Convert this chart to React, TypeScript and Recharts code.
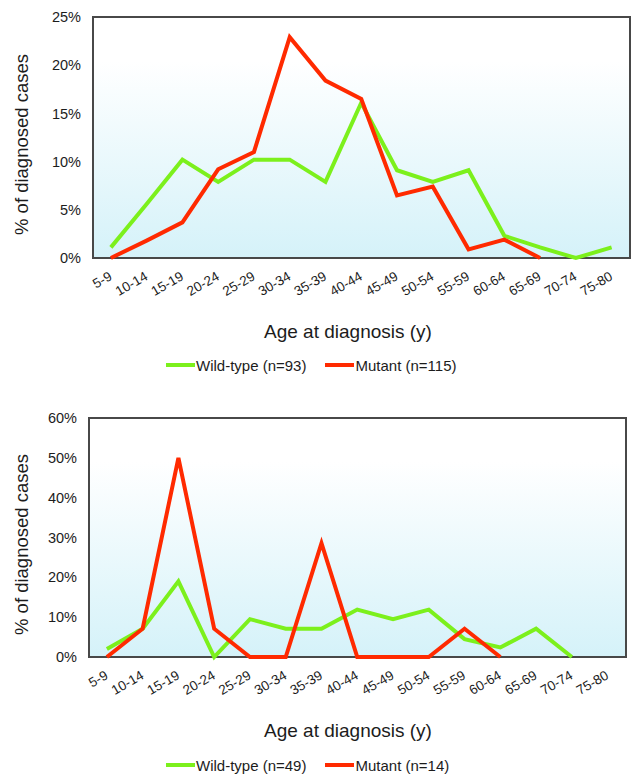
import React from 'react';
import { LineChart, Line, XAxis, YAxis, Legend } from 'recharts';

const ageGroups = ['5-9', '10-14', '15-19', '20-24', '25-29', '30-34', '35-39', '40-44', '45-49', '50-54', '55-59', '60-64', '65-69', '70-74', '75-80'];

const topWildType = [1.1, 5.6, 10.2, 7.9, 10.2, 10.2, 7.9, 16.1, 9.1, 7.9, 9.1, 2.3, 1.1, 0, 1.1];
const topMutant = [0, 1.8, 3.7, 9.2, 11.0, 22.9, 18.4, 16.5, 6.5, 7.4, 0.9, 1.9, 0, null, null];
const topYTicks = [0, 5, 10, 15, 20, 25];

const bottomWildType = [2.0, 7.1, 19.0, 0, 9.5, 7.1, 7.1, 11.9, 9.5, 11.9, 4.5, 2.4, 7.1, 0, null];
const bottomMutant = [0, 7.1, 50, 7.1, 0, 0, 28.6, 0, 0, 0, 7.1, 0, null, null, null];
const bottomYTicks = [0, 10, 20, 30, 40, 50, 60];

const topNames = ['Wild-type (n=93)', 'Mutant (n=115)'];
const bottomNames = ['Wild-type (n=49)', 'Mutant (n=14)'];
const seriesKeys = ['wt', 'mu'];

const GREEN = '#7cf01c';
const RED = '#ff2a00';
const FRAME = '#484848';
const FONT = '"Liberation Sans", Arial, Helvetica, sans-serif';
const TEXT = '#1c1c1c';
const CHART_W = 631;
const CHART_H = 388;
const LEGEND_H = 22;

const ageIndex = ageGroups.map((_, i) => i);
const xMin = -0.5;
const xMax = ageGroups.length - 0.5;

const buildRows = (wt: (number | null)[], mu: (number | null)[]) =>
  ageGroups.map((g, i) => ({ idx: i, age: g, wt: wt[i], mu: mu[i] }));

const AgeTick = (props: any) => {
  const { x, y, payload } = props;
  const label = ageGroups[payload.value] ?? '';
  return (
    <g transform={`translate(${x},${y})`}>
      <text x={2} y={21} textAnchor="end" transform="rotate(-30 2 21)" fontSize={13.5} fill={TEXT} fontFamily={FONT}>
        {label}
      </text>
    </g>
  );
};

const YLabel = (props: any) => {
  const vb = props.viewBox || { x: 0, y: 0, width: 0, height: 0 };
  const cx = vb.x + 28;
  const cy = vb.y + vb.height / 2 + 7;
  return (
    <text x={cx} y={cy} textAnchor="middle" transform={`rotate(-90 ${cx} ${cy})`} fontSize={18.5} fill={TEXT} fontFamily={FONT}>
      % of diagnosed cases
    </text>
  );
};

const XLabel = (props: any) => {
  const vb = props.viewBox || { x: 0, y: 0, width: 0, height: 0 };
  return (
    <text x={348} y={vb.y + 80} textAnchor="middle" fontSize={19} fill={TEXT} fontFamily={FONT}>
      Age at diagnosis (y)
    </text>
  );
};

const LegendContent = (props: any) => {
  const items = [...(props.payload || [])].sort(
    (a: any, b: any) => seriesKeys.indexOf(a.dataKey) - seriesKeys.indexOf(b.dataKey)
  );
  return (
    <div style={{ display: 'flex', alignItems: 'center', height: LEGEND_H, paddingLeft: 166, fontFamily: FONT, fontSize: 15, color: TEXT, whiteSpace: 'nowrap' }}>
      {items.map((it: any, i: number) => (
        <div key={i} style={{ display: 'flex', alignItems: 'center', marginRight: 19 }}>
          <div style={{ width: 29, height: 4, background: it.color }} />
          <span style={{ marginLeft: 1 }}>{it.value}</span>
        </div>
      ))}
    </div>
  );
};

type PanelProps = {
  wt: (number | null)[];
  mu: (number | null)[];
  ticks: number[];
  names: string[];
  marginTop: number;
  marginRight: number;
  yWidth: number;
  xHeight: number;
  legendBottom: number;
};

const Panel = ({ wt, mu, ticks, names, marginTop, marginRight, yWidth, xHeight, legendBottom }: PanelProps) => {
  const rows = buildRows(wt, mu);
  const yMax = ticks[ticks.length - 1];
  const plotW = CHART_W - yWidth - marginRight;
  const plotH = CHART_H - marginTop - xHeight - LEGEND_H;
  return (
    <div style={{ position: 'relative', width: CHART_W, height: CHART_H }}>
      <div
        style={{
          position: 'absolute',
          left: yWidth - 1,
          top: marginTop - 1,
          width: plotW + 2,
          height: plotH + 2,
          boxSizing: 'border-box',
          border: `2px solid ${FRAME}`,
          background: 'linear-gradient(to bottom, #ffffff 0%, #ffffff 18%, #d5f2f9 100%)',
        }}
      />
      <LineChart width={CHART_W} height={CHART_H} data={rows} margin={{ top: marginTop, right: marginRight, left: 0, bottom: 0 }}>
        <XAxis
          type="number"
          dataKey="idx"
          domain={[xMin, xMax]}
          ticks={ageIndex}
          interval={0}
          allowDataOverflow
          tick={<AgeTick />}
          tickLine={false}
          axisLine={false}
          tickSize={0}
          tickMargin={0}
          height={xHeight}
          label={<XLabel />}
        />
        <YAxis
          domain={[0, yMax]}
          ticks={ticks}
          tickFormatter={(v: number) => `${v}%`}
          tick={{ fontSize: 14.5, fill: TEXT, fontFamily: FONT }}
          tickLine={false}
          axisLine={false}
          tickSize={0}
          tickMargin={12}
          width={yWidth}
          label={<YLabel />}
        />
        <Legend verticalAlign="bottom" content={<LegendContent />} wrapperStyle={{ bottom: legendBottom }} />
        <Line type="linear" dataKey="wt" name={names[0]} stroke={GREEN} strokeWidth={4} dot={false} activeDot={false} isAnimationActive={false} />
        <Line type="linear" dataKey="mu" name={names[1]} stroke={RED} strokeWidth={4} dot={false} activeDot={false} isAnimationActive={false} />
      </LineChart>
    </div>
  );
};

export default function App() {
  return (
    <div style={{ width: CHART_W, background: '#fff' }}>
      <style>{`body{margin:0;background:#fff}`}</style>
      <Panel wt={topWildType} mu={topMutant} ticks={topYTicks} names={topNames} marginTop={17} marginRight={1.5} yWidth={93} xHeight={108} legendBottom={12} />
      <Panel wt={bottomWildType} mu={bottomMutant} ticks={bottomYTicks} names={bottomNames} marginTop={30} marginRight={5.5} yWidth={89} xHeight={97} legendBottom={0} />
    </div>
  );
}
